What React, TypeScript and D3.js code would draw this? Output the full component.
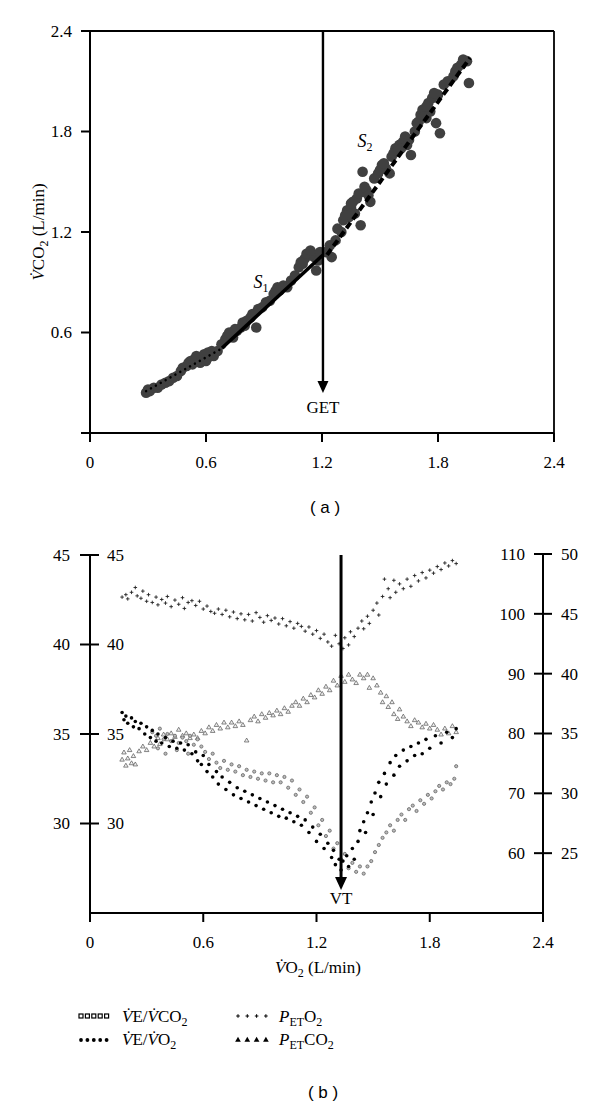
import React from "react";
import * as d3 from "d3";

// ---------- Panel (a) data ----------
const topTicks = [0, 0.6, 1.2, 1.8, 2.4];
const topPoints: [number, number][] = [
  [0.29,0.24],[0.30,0.26],[0.31,0.25],[0.33,0.27],[0.35,0.27],[0.37,0.29],[0.39,0.30],[0.41,0.31],[0.43,0.33],[0.45,0.34],
  [0.47,0.37],[0.48,0.39],[0.50,0.40],[0.51,0.42],[0.53,0.41],[0.54,0.44],[0.56,0.43],[0.57,0.45],[0.58,0.44],[0.60,0.46],
  [0.61,0.45],[0.62,0.47],[0.63,0.49],[0.64,0.46],[0.66,0.49],[0.68,0.53],[0.70,0.56],[0.71,0.58],[0.73,0.59],[0.74,0.57],
  [0.76,0.61],[0.78,0.63],[0.79,0.66],[0.81,0.67],[0.83,0.69],[0.84,0.71],[0.86,0.63],[0.87,0.74],[0.89,0.75],[0.91,0.78],
  [0.93,0.79],[0.95,0.83],[0.97,0.87],[0.98,0.85],[1.00,0.88],[1.02,0.87],[1.04,0.91],[1.06,0.94],[1.08,0.99],[1.10,1.01],
  [1.11,1.04],[1.13,1.06],[1.15,1.07],[1.16,1.05],[1.17,0.97],[1.18,1.03],[1.22,1.08],[1.24,1.12],[1.25,1.05],[1.27,1.15],
  [1.28,1.22],[1.30,1.20],[1.31,1.27],[1.33,1.33],[1.34,1.29],[1.35,1.35],[1.36,1.38],[1.37,1.31],[1.38,1.40],[1.39,1.43],
  [1.40,1.24],[1.41,1.56],[1.42,1.44],[1.43,1.45],[1.45,1.38],[1.47,1.52],[1.49,1.55],[1.51,1.60],[1.53,1.58],[1.55,1.55],
  [1.56,1.65],[1.58,1.70],[1.60,1.72],[1.62,1.74],[1.63,1.77],[1.65,1.75],[1.66,1.66],[1.68,1.80],[1.70,1.86],[1.71,1.90],
  [1.72,1.93],[1.74,1.88],[1.75,1.97],[1.76,1.92],[1.77,2.00],[1.79,1.85],[1.81,1.79],[1.80,2.02],[1.83,2.08],[1.85,2.10],
  [1.88,2.13],[1.90,2.18],[1.92,2.20],[1.95,2.22],[1.96,2.09],
  [0.52,0.43],[0.55,0.46],[0.57,0.42],[0.59,0.47],[0.61,0.48],[0.60,0.43],[0.72,0.60],[0.75,0.62],[0.80,0.64],[0.96,0.85],
  [1.09,1.02],[1.12,1.07],[1.14,1.09],[1.19,1.08],[1.32,1.30],[1.35,1.37],[1.42,1.47],[1.44,1.42],[1.50,1.57],[1.52,1.61],
  [1.57,1.67],[1.59,1.68],[1.61,1.70],[1.64,1.72],[1.69,1.85],[1.73,1.89],[1.74,1.95],[1.78,2.03],[1.89,2.16],[1.93,2.23]
];
const dottedFit: [number, number][] = [[0.29, 0.25], [0.69, 0.51]];
const s1Fit: [number, number][] = [[0.683, 0.507], [1.205, 1.063]];
const s2Fit: [number, number][] = [[1.226, 1.063], [1.966, 2.24]];
const getX = 1.205;

// ---------- Panel (b) data ----------
const leftTicks = [30, 35, 40, 45];
const rightTicksO2 = [60, 70, 80, 90, 100, 110];
const rightTicksCO2 = [25, 30, 35, 40, 45, 50];
const vtX = 1.33;

const petO2: [number, number][] = [
  [0.17,102.8],[0.19,103.2],[0.20,102.5],[0.22,103.6],[0.24,104.4],[0.25,103.0],[0.27,102.6],[0.28,103.8],[0.30,102.1],[0.31,103.2],
  [0.33,101.9],[0.35,102.8],[0.36,101.5],[0.38,102.4],[0.40,101.8],[0.41,102.9],[0.43,101.2],[0.45,102.3],[0.47,101.6],[0.49,102.7],
  [0.50,100.9],[0.52,101.9],[0.54,102.2],[0.56,101.4],[0.58,102.1],[0.60,100.8],[0.62,101.3],[0.64,100.4],[0.66,100.1],[0.68,100.8],
  [0.70,99.9],[0.72,100.6],[0.74,99.5],[0.76,100.3],[0.78,99.2],[0.80,100.0],[0.82,99.0],[0.84,99.9],[0.86,98.8],[0.88,100.2],
  [0.90,99.4],[0.92,98.6],[0.94,99.7],[0.96,98.9],[0.98,99.3],[1.00,98.3],[1.02,99.2],[1.04,98.0],[1.06,98.7],[1.08,97.6],
  [1.10,98.4],[1.12,97.9],[1.14,97.1],[1.16,97.8],[1.18,96.6],[1.20,97.2],[1.22,95.9],[1.24,96.6],[1.26,95.3],[1.28,94.6],
  [1.30,96.4],[1.32,95.0],[1.34,94.2],[1.35,96.0],[1.37,94.8],[1.38,97.0],[1.40,96.2],[1.42,97.6],[1.44,98.8],[1.45,97.5],
  [1.47,99.6],[1.48,98.4],[1.50,100.6],[1.52,101.8],[1.53,99.8],[1.55,102.9],[1.56,105.8],[1.58,104.2],[1.59,102.7],[1.61,105.6],
  [1.62,103.6],[1.64,105.0],[1.66,104.2],[1.68,105.8],[1.70,104.6],[1.72,106.4],[1.74,105.5],[1.76,106.9],[1.78,106.0],[1.80,107.3],
  [1.82,106.8],[1.84,107.9],[1.86,107.4],[1.88,108.5],[1.90,108.0],[1.92,108.9],[1.94,108.4]
];

const petCO2: [number, number][] = [
  [0.17,32.8],[0.18,33.4],[0.19,32.3],[0.20,32.9],[0.21,33.6],[0.22,32.5],[0.23,33.1],[0.24,32.4],[0.26,33.5],[0.28,33.9],
  [0.30,33.6],[0.32,34.2],[0.34,33.9],[0.36,34.6],[0.37,34.1],[0.39,34.9],[0.41,34.5],[0.43,35.0],[0.45,34.7],[0.47,35.3],
  [0.49,34.8],[0.51,35.0],[0.53,34.6],[0.55,34.9],[0.57,34.6],[0.59,35.2],[0.61,35.0],[0.63,35.5],[0.65,35.2],[0.67,35.7],
  [0.69,35.4],[0.71,35.9],[0.73,35.5],[0.75,35.9],[0.77,35.6],[0.79,36.0],[0.81,35.7],[0.83,34.4],[0.85,36.1],[0.87,36.4],
  [0.89,36.0],[0.91,36.6],[0.93,36.3],[0.95,36.7],[0.97,36.5],[0.99,36.9],[1.01,36.6],[1.03,37.1],[1.05,36.8],[1.07,37.3],
  [1.09,37.6],[1.11,37.3],[1.13,37.9],[1.15,37.6],[1.17,38.2],[1.19,38.0],[1.21,38.6],[1.23,38.3],[1.25,38.9],[1.27,38.6],
  [1.29,39.4],[1.31,39.0],[1.33,39.8],[1.35,39.3],[1.37,39.9],[1.39,39.5],[1.41,39.2],[1.43,39.9],[1.45,39.6],[1.47,39.9],
  [1.48,38.8],[1.50,39.6],[1.52,39.0],[1.54,38.4],[1.55,37.6],[1.57,38.1],[1.58,37.2],[1.60,37.6],[1.61,36.6],[1.63,36.2],
  [1.64,37.0],[1.66,36.4],[1.68,36.0],[1.70,35.6],[1.72,36.1],[1.74,35.9],[1.76,35.5],[1.78,35.8],[1.80,35.4],[1.82,35.7],
  [1.84,35.3],[1.86,34.9],[1.88,35.4],[1.90,35.0],[1.92,35.6],[1.94,35.1]
];

const veVO2: [number, number][] = [
  [0.17,36.2],[0.18,35.8],[0.19,36.0],[0.20,35.6],[0.22,35.9],[0.23,35.4],[0.24,35.7],[0.26,35.3],[0.27,35.6],[0.29,35.0],
  [0.30,35.4],[0.32,34.8],[0.33,35.2],[0.35,34.6],[0.36,35.0],[0.38,34.5],[0.40,34.8],[0.42,34.3],[0.44,34.6],[0.46,34.2],
  [0.48,34.5],[0.50,34.1],[0.52,34.4],[0.54,33.9],[0.56,34.0],[0.57,33.5],[0.59,33.3],[0.60,33.8],[0.62,32.9],[0.63,33.3],
  [0.65,32.6],[0.67,32.9],[0.68,32.2],[0.70,32.6],[0.72,31.9],[0.74,32.3],[0.76,31.6],[0.78,32.0],[0.80,31.4],[0.82,31.8],
  [0.84,31.2],[0.86,31.6],[0.88,31.0],[0.90,31.4],[0.92,30.8],[0.94,31.2],[0.96,30.6],[0.98,31.0],[1.00,30.4],[1.02,30.8],
  [1.04,30.3],[1.06,30.6],[1.08,30.1],[1.10,30.4],[1.12,29.9],[1.14,30.2],[1.16,29.5],[1.18,29.8],[1.20,29.0],[1.22,29.4],
  [1.24,28.6],[1.26,28.9],[1.28,28.1],[1.29,28.5],[1.30,27.7],[1.32,28.0],[1.33,27.4],[1.34,27.9],[1.36,28.2],[1.37,27.6],
  [1.39,28.6],[1.40,28.0],[1.42,29.0],[1.43,29.6],[1.45,30.1],[1.46,29.5],[1.47,30.6],[1.49,31.2],[1.50,30.5],[1.51,31.7],
  [1.53,32.3],[1.54,31.5],[1.56,32.8],[1.57,32.2],[1.59,33.4],[1.61,32.7],[1.62,33.8],[1.64,33.2],[1.66,34.1],[1.68,33.5],
  [1.70,34.3],[1.72,33.8],[1.74,34.5],[1.76,33.9],[1.78,34.7],[1.80,34.2],[1.83,34.9],[1.86,34.5],[1.89,35.1],[1.92,34.8],[1.94,35.3]
];

const veVCO2: [number, number][] = [
  [0.33,35.1],[0.35,34.9],[0.36,34.2],[0.37,35.3],[0.39,34.7],[0.40,33.9],[0.41,35.0],[0.43,34.6],[0.45,34.9],[0.46,34.1],
  [0.47,34.5],[0.49,34.8],[0.51,34.6],[0.52,33.9],[0.53,34.9],[0.55,34.4],[0.57,34.7],[0.59,34.3],[0.61,34.0],[0.63,33.6],
  [0.65,33.9],[0.67,33.4],[0.69,33.1],[0.71,33.5],[0.73,33.0],[0.75,33.3],[0.77,32.9],[0.79,33.2],[0.81,32.7],[0.83,33.0],
  [0.85,32.6],[0.87,32.9],[0.89,32.5],[0.91,32.8],[0.93,32.4],[0.95,32.8],[0.97,32.3],[0.99,32.7],[1.01,32.3],[1.03,32.6],
  [1.05,32.0],[1.07,32.4],[1.09,31.6],[1.11,31.9],[1.13,31.2],[1.15,31.5],[1.17,30.6],[1.19,30.9],[1.21,29.9],[1.23,30.2],
  [1.25,29.3],[1.27,29.6],[1.29,28.6],[1.31,28.9],[1.33,28.0],[1.35,28.3],[1.37,27.5],[1.39,27.8],[1.41,27.3],[1.43,27.6],
  [1.45,27.2],[1.47,27.6],[1.49,27.9],[1.51,28.4],[1.53,28.8],[1.55,29.2],[1.57,29.5],[1.59,29.9],[1.61,29.6],[1.63,30.2],
  [1.65,30.5],[1.67,30.2],[1.69,30.8],[1.71,31.0],[1.73,30.7],[1.75,31.3],[1.77,31.1],[1.79,31.6],[1.81,31.4],[1.83,31.8],
  [1.85,32.1],[1.87,31.9],[1.89,32.3],[1.91,32.2],[1.93,32.5],[1.94,33.2]
];

const SERIF = "'Liberation Serif', 'Times New Roman', serif";
const SANS = "'Liberation Sans', Arial, sans-serif";

export default function App() {
  // Panel (a) scales
  const xA = d3.scaleLinear().domain([0, 2.4]).range([90, 554]);
  const yA = d3.scaleLinear().domain([0, 2.4]).range([433, 31]);
  const lineA = d3.line<[number, number]>().x((d) => xA(d[0])).y((d) => yA(d[1]));

  // Panel (b) scales
  const xB = d3.scaleLinear().domain([0, 2.4]).range([90, 543]);
  const yL = d3.scaleLinear().domain([25, 45]).range([913, 555]);
  const yO2 = d3.scaleLinear().domain([50, 110]).range([913, 554]);
  const yCO2 = d3.scaleLinear().domain([20, 50]).range([913, 554]);
  const tri = d3.symbol().type(d3.symbolTriangle).size(9)() as string;
  const triLegend = d3.symbol().type(d3.symbolTriangle).size(14)() as string;

  const fs = 17;
  const crossPath = "M-1.8,0H1.8M0,-1.8V1.8";

  return (
    <svg
      width={600}
      height={1107}
      style={{ position: "absolute", left: 0, top: 0, background: "#fff" }}
      fontFamily={SERIF}
    >
      <rect x={0} y={0} width={600} height={1107} fill="#fff" />
      {/* ================= Panel (a) ================= */}
      <line x1={xA(0)} x2={xA(0)} y1={yA(2.4)} y2={yA(0)} stroke="#000" strokeWidth={2} />
      <line x1={xA(0) - 9} x2={xA(2.4)} y1={yA(0)} y2={yA(0)} stroke="#000" strokeWidth={2} />
      <line x1={xA(0)} x2={xA(2.4)} y1={yA(2.4)} y2={yA(2.4)} stroke="#000" strokeWidth={1.8} />
      <line x1={xA(2.4)} x2={xA(2.4)} y1={yA(2.4)} y2={yA(0) + 9} stroke="#000" strokeWidth={1.8} />
      {topTicks.filter((t) => t > 0).map((t) => (
        <g key={"ya" + t}>
          <line x1={xA(0) - 9} x2={xA(0)} y1={yA(t)} y2={yA(t)} stroke="#000" strokeWidth={2} />
          <text x={72} y={yA(t)} dy="0.35em" textAnchor="end" fontSize={fs}>{t}</text>
        </g>
      ))}
      {topTicks.map((t) => (
        <g key={"xa" + t}>
          <line x1={xA(t)} x2={xA(t)} y1={yA(0)} y2={yA(0) + 9} stroke="#000" strokeWidth={2} />
          <text x={xA(t)} y={468} textAnchor="middle" fontSize={fs}>{t}</text>
        </g>
      ))}
      <text transform="translate(44,232) rotate(-90)" textAnchor="middle" fontSize={fs}>
        <tspan fontStyle="italic">V&#x307;</tspan>
        <tspan>CO</tspan>
        <tspan fontSize={12} dy={4}>2</tspan>
        <tspan dy={-4}> (L/min)</tspan>
      </text>

      {topPoints.map((p, i) => (
        <circle key={"tp" + i} cx={xA(p[0])} cy={yA(p[1])} r={5.3} fill="#404040" />
      ))}
      <path d={lineA(dottedFit) as string} stroke="#000" strokeWidth={2.4} strokeDasharray="0.1 5.5" strokeLinecap="round" fill="none" />
      <path d={lineA(s1Fit) as string} stroke="#000" strokeWidth={3.5} fill="none" />
      <path d={lineA(s2Fit) as string} stroke="#000" strokeWidth={4} strokeDasharray="7 4" fill="none" />
      <text x={261} y={288} fontSize={18} fontStyle="italic" textAnchor="middle">
        S<tspan fontSize={12} dy={4} fontStyle="normal">1</tspan>
      </text>
      <text x={365} y={147} fontSize={18} fontStyle="italic" textAnchor="middle">
        S<tspan fontSize={12} dy={4} fontStyle="normal">2</tspan>
      </text>
      <line x1={xA(getX)} x2={xA(getX)} y1={yA(2.4)} y2={383} stroke="#000" strokeWidth={2.4} />
      <path d={`M${xA(getX) - 5.5},381 L${xA(getX) + 5.5},381 L${xA(getX)},393 Z`} fill="#000" />
      <text x={xA(getX)} y={413} textAnchor="middle" fontSize={fs}>GET</text>

      <text x={325} y={513} textAnchor="middle" fontSize={17} fontFamily={SANS}>( a )</text>

      {/* ================= Panel (b) ================= */}
      <line x1={xB(0)} x2={xB(0)} y1={yL(45)} y2={yL(25) + 9} stroke="#000" strokeWidth={2} />
      <line x1={xB(0)} x2={xB(2.4)} y1={yL(25)} y2={yL(25)} stroke="#000" strokeWidth={2} />
      <line x1={xB(2.4)} x2={xB(2.4)} y1={yO2(110)} y2={yL(25) + 9} stroke="#000" strokeWidth={2} />
      {leftTicks.map((t) => (
        <g key={"yl" + t}>
          <line x1={xB(0) - 10} x2={xB(0) + 9} y1={yL(t)} y2={yL(t)} stroke="#000" strokeWidth={2} />
          <text x={70} y={yL(t)} dy="0.35em" textAnchor="end" fontSize={fs}>{t}</text>
          <text x={107} y={yL(t)} dy="0.35em" textAnchor="start" fontSize={fs}>{t}</text>
        </g>
      ))}
      {rightTicksO2.map((t) => (
        <g key={"yr" + t}>
          <line x1={xB(2.4) - 9} x2={xB(2.4) + 9} y1={yO2(t)} y2={yO2(t)} stroke="#000" strokeWidth={2} />
          <text x={525} y={yO2(t)} dy="0.35em" textAnchor="end" fontSize={fs}>{t}</text>
        </g>
      ))}
      {rightTicksCO2.map((t) => (
        <text key={"yc" + t} x={561} y={yCO2(t)} dy="0.35em" textAnchor="start" fontSize={fs}>{t}</text>
      ))}
      {topTicks.map((t) => (
        <g key={"xb" + t}>
          <line x1={xB(t)} x2={xB(t)} y1={yL(25)} y2={yL(25) + 9} stroke="#000" strokeWidth={2} />
          <text x={xB(t)} y={948} textAnchor="middle" fontSize={fs}>{t}</text>
        </g>
      ))}
      <text x={318} y={973} textAnchor="middle" fontSize={fs}>
        <tspan fontStyle="italic">V&#x307;</tspan>
        <tspan>O</tspan>
        <tspan fontSize={12} dy={4}>2</tspan>
        <tspan dy={-4}> (L/min)</tspan>
      </text>

      {petO2.map((p, i) => (
        <path key={"o2" + i} d={crossPath} transform={`translate(${xB(p[0])},${yO2(p[1])})`} stroke="#222" strokeWidth={0.9} />
      ))}
      {petCO2.map((p, i) => (
        <path key={"co2" + i} d={tri} transform={`translate(${xB(p[0])},${yCO2(p[1])})`} stroke="#555" strokeWidth={0.7} fill="#eee" />
      ))}
      {veVCO2.map((p, i) => (
        <circle key={"vc" + i} cx={xB(p[0])} cy={yL(p[1])} r={1.6} fill="#bbb" stroke="#666" strokeWidth={0.8} />
      ))}
      {veVO2.map((p, i) => (
        <circle key={"vo" + i} cx={xB(p[0])} cy={yL(p[1])} r={1.8} fill="#000" />
      ))}

      <line x1={xB(vtX)} x2={xB(vtX)} y1={yL(45)} y2={880} stroke="#000" strokeWidth={3} />
      <path d={`M${xB(vtX) - 6},877 L${xB(vtX) + 6},877 L${xB(vtX)},890 Z`} fill="#000" />
      <text x={xB(vtX)} y={904} textAnchor="middle" fontSize={fs}>VT</text>

      {/* legend */}
      {[0, 1, 2, 3, 4].map((i) => (
        <rect key={"lgs" + i} x={79 + i * 6.4} y={1014} width={4} height={4} fill="#fff" stroke="#000" strokeWidth={1.2} />
      ))}
      {[0, 1, 2, 3, 4].map((i) => (
        <circle key={"lgd" + i} cx={81 + i * 6.4} cy={1040} r={1.9} fill="#000" />
      ))}
      {[0, 1, 2, 3].map((i) => (
        <path key={"lgp" + i} d={crossPath} transform={`translate(${238 + i * 9.3},${1016})`} stroke="#000" strokeWidth={1} />
      ))}
      {[0, 1, 2, 3].map((i) => (
        <path key={"lgt" + i} d={triLegend} transform={`translate(${238 + i * 9.3},${1040})`} fill="#000" />
      ))}
      <text x={122} y={1022} fontSize={fs}>
        <tspan fontStyle="italic">V&#x307;</tspan>E/<tspan fontStyle="italic">V&#x307;</tspan>CO<tspan fontSize={12} dy={4}>2</tspan>
      </text>
      <text x={122} y={1045} fontSize={fs}>
        <tspan fontStyle="italic">V&#x307;</tspan>E/<tspan fontStyle="italic">V&#x307;</tspan>O<tspan fontSize={12} dy={4}>2</tspan>
      </text>
      <text x={279} y={1022} fontSize={fs}>
        <tspan fontStyle="italic">P</tspan><tspan fontSize={12} dy={4}>ET</tspan><tspan dy={-4}>O</tspan><tspan fontSize={12} dy={4}>2</tspan>
      </text>
      <text x={279} y={1045} fontSize={fs}>
        <tspan fontStyle="italic">P</tspan><tspan fontSize={12} dy={4}>ET</tspan><tspan dy={-4}>CO</tspan><tspan fontSize={12} dy={4}>2</tspan>
      </text>

      <text x={323} y={1098} textAnchor="middle" fontSize={17} fontFamily={SANS}>( b )</text>
    </svg>
  );
}
